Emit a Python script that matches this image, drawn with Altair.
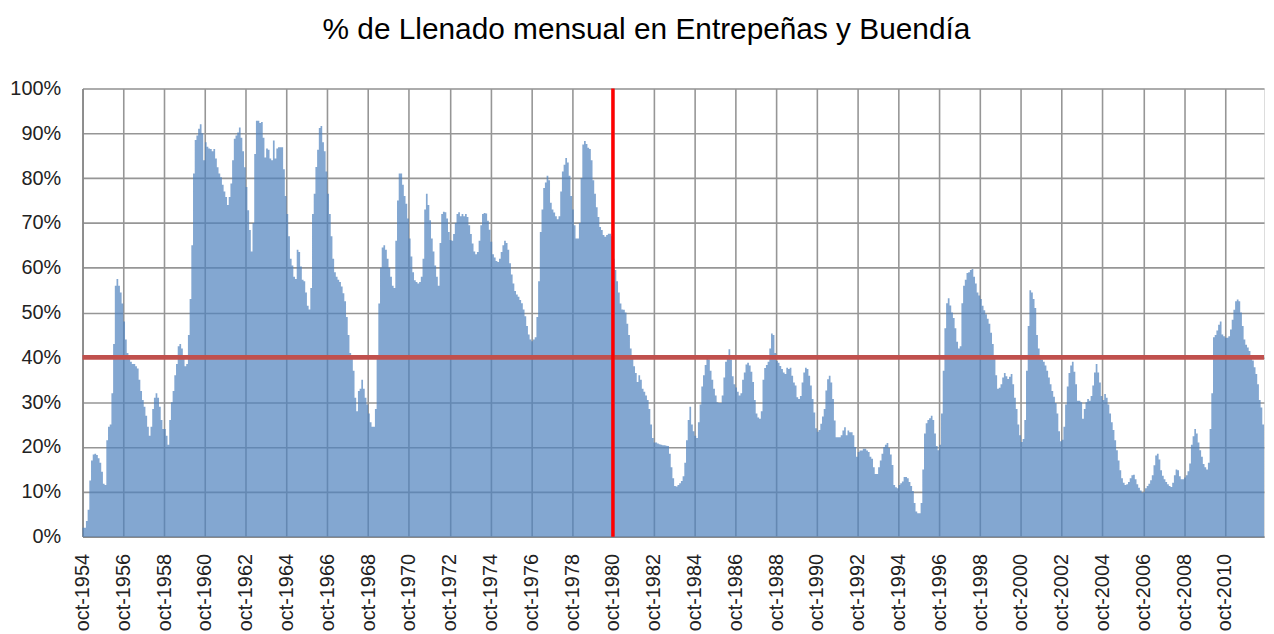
import altair as alt
import pandas as pd

# Monthly fill (%) of Entrepeñas + Buendía, oct-1954 .. aug-2012 (one row of 12 = one water year Oct-Sep)
fill_1954_1963 = [
    2, 2, 3.5, 6, 12.5, 17, 18.3, 18.5, 18.2, 17.5, 16.5, 14.5,
    11.8, 11.5, 21.5, 24.5, 25, 32, 43, 56, 57.5, 56, 54.5, 52,
    48, 44, 41, 40, 39, 38.5, 38.5, 38, 37.5, 35, 32.5, 30.5,
    29, 27, 24.5, 22.5, 24.5, 28.5, 31, 32, 31, 29, 26, 24,
    24, 22.5, 20.5, 26, 30, 32.5, 36, 38.5, 42.5, 43, 42, 40.5,
    38, 38.5, 45, 53, 65, 81, 88.5, 89.5, 91, 92, 90, 84,
    88, 87, 86.6, 86.5, 86, 86.5, 84.4, 82.4, 81, 80.2, 78.5, 77,
    75.8, 74, 75.8, 78.8, 84, 88.8, 89.5, 90.2, 91.3, 89, 86, 82.4,
    78, 72.8, 68.4, 63.6, 70, 85.4, 92.8, 92.8, 92.3, 92.5, 89, 84.6,
    86.6, 86.3, 84.4, 84, 88.4, 84.4, 86.6, 86.9, 86.9, 86.9, 82, 76,
]
fill_1964_1973 = [
    72, 67, 62, 60.5, 58, 57.5, 64, 63.5, 60.3, 57.3, 57, 54.5,
    51.5, 50.7, 55.5, 72, 76.5, 82.5, 86.3, 91.2, 91.6, 88, 86, 81.5,
    76.5, 72, 67, 62, 59, 58, 57.3, 56.8, 55.8, 54.3, 52.5, 49,
    45, 41, 40.5, 37, 31, 28, 32.5, 33, 35, 33, 31, 29.5,
    27.5, 25.5, 24.5, 24.5, 28.5, 40, 52, 60, 64.5, 65, 64, 62,
    60, 58, 56, 55.5, 66, 75, 81, 81, 78.5, 76, 74.3, 71,
    66.5, 62.5, 59, 57.2, 56.8, 56.5, 56.8, 58, 62, 73, 76.5, 74,
    70.6, 66.5, 63.6, 60.5, 58, 56, 65.5, 72, 72.5, 72.4, 71, 68,
    66.2, 66, 67.5, 70, 72, 72.4, 71.5, 72, 71.5, 72, 71.3, 69.5,
    67.5, 65.4, 63.6, 63, 63.5, 66, 69.5, 72, 72.2, 72.1, 70.5, 68.5,
]
fill_1974_1983 = [
    65.8, 63, 62.3, 61.5, 61.3, 62, 63.5, 65, 66, 65.5, 64, 61,
    58.5, 56.5, 54.8, 54, 53.5, 52.8, 52.1, 50.7, 49.2, 47, 45.1, 44,
    43.6, 44, 44.5, 49, 57, 68, 73, 77.8, 79, 80.5, 79.5, 74.5,
    73, 72.3, 71.5, 70.8, 71.5, 77, 81.5, 83, 84.5, 83.5, 80.5, 76,
    73, 69.5, 66.5, 66.5, 70, 80, 87.5, 88.3, 87.6, 86.8, 86.5, 84,
    79.5, 76.5, 73.5, 71.3, 69.1, 68.4, 67.3, 66.9, 67.3, 67.6, 67.6, 67,
    62, 59.5, 57, 54.5, 52, 50.7, 50.6, 50, 47.5, 45, 42, 40,
    38, 36.5, 34.5, 36, 35, 33, 32.3, 31.5, 30.5, 28.5, 25, 22,
    21, 21, 20.8, 20.6, 20.5, 20.4, 20.4, 20.3, 20.2, 18.5, 15.5, 13,
    11.3, 11.2, 11.5, 11.9, 12.4, 13.5, 16.5, 21.5, 26, 29, 25, 23.5,
]
fill_1984_1993 = [
    22.5, 22, 25.5, 29.5, 33.5, 36, 38.3, 40, 39.5, 37, 35, 33,
    31.5, 30, 29.8, 29.8, 31.5, 35.5, 39, 40.5, 41.8, 39.5, 35.8, 34,
    33.3, 32.3, 31.5, 32, 35, 36.6, 38.4, 38.8, 38.2, 36.8, 34.5, 30.5,
    27.5, 26.6, 26.3, 28, 35, 37.6, 38.3, 39, 42, 45.3, 45, 41,
    39.2, 38.8, 38.1, 37.4, 36.6, 36.3, 37.7, 37.4, 37.7, 35.9, 34.4, 33.7,
    31.1, 30.7, 31.4, 34.4, 36.6, 37.7, 37.4, 35.9, 33.7, 30.7, 27.7, 24.2,
    23.4, 23.8, 25.2, 26.8, 28.5, 32.6, 35.1, 35.9, 34.4, 30.7, 25.9, 22.2,
    22.2, 22.2, 22.6, 23.7, 24.4, 22.6, 23.7, 23.3, 23.3, 22.6, 20, 17.8,
    18.9, 19.2, 19.2, 19.6, 19.6, 19.2, 18.9, 17.8, 17.4, 15.5, 14, 14,
    15.5, 17, 18.5, 20, 20.5, 20.9, 19.8, 18.3, 16, 11.5, 11, 10.8,
]
fill_1994_2003 = [
    11.5, 11.9, 12.3, 13.3, 13.3, 13, 12.2, 11.3, 10.2, 7.5, 5.6, 5.2,
    5.2, 7.5, 15, 23, 25.3, 26, 26.4, 27, 26, 23, 20.2, 19.3,
    20.5, 27.5, 37, 46.5, 52.1, 53.2, 51.6, 50, 48.8, 46.5, 43.5, 42,
    42.5, 52.1, 56, 57.3, 58.8, 59, 59.5, 59.7, 58, 56.5, 54.5, 53.8,
    53, 51.5, 50.5, 49.6, 48.6, 47.5, 45.5, 43, 40.5, 36, 33, 33.2,
    34, 35.5, 36.5, 35.8, 35.2, 35.7, 36.3, 34, 31, 28.5, 25, 22.6,
    21.1, 21.8, 26, 37, 47, 55, 54.5, 53, 51, 45, 42, 40.5,
    39.5, 39, 38.2, 37, 35.5, 34, 32.5, 31.2, 29.8, 27.5, 23.5, 21.3,
    21.6, 24.5, 29.5, 33.5, 36.5, 38.2, 39, 36.8, 34, 30.3, 30.3, 30,
    26.3, 28.5, 30, 30.7, 30.3, 31.4, 33.7, 36.6, 38.5, 36.6, 34.4, 31.4,
]
fill_2004_2012 = [
    30.5, 31.8, 31, 29.5, 27.5, 25.5, 23.8, 21.5, 19.3, 17, 14.8, 13,
    12, 11.5, 11.7, 12.2, 13, 13.7, 13.8, 12.8, 11.7, 10.9, 10.3, 9.8,
    10, 10.8, 11.3, 11.8, 12.6, 13.7, 15.9, 18.1, 18.5, 17.2, 14.8, 13.6,
    12.8, 12.2, 11.7, 11.3, 11.1, 12, 13.7, 15, 14.8, 13.5, 12.8, 12.8,
    13.2, 13.7, 14.6, 16.3, 20.5, 22.4, 24, 23, 21, 19.3, 17.8, 16.2,
    15.5, 15, 16.5, 24, 32, 44.5, 45, 46, 47.3, 48, 45.1, 44.7,
    44.4, 44.4, 44.7, 46.2, 48.4, 50.6, 52.5, 52.9, 52.5, 50, 47, 44,
    42.8, 42.2, 41.4, 40.5, 39.3, 37.8, 36.3, 34, 30.5, 28.8, 25,
]

tick_years = list(range(1954, 2012))           # one vertical gridline each October
tick_labels = [f"oct-{y}" if (y - 1954) % 2 == 0 else "" for y in tick_years]
y_ticks = list(range(0, 101, 10))
threshold_pct = 40                              # red horizontal reference
marker_year = 1980                              # red vertical reference (oct-1980)

title_text = "% de Llenado mensual en Entrepeñas y Buendía"

values = (fill_1954_1963 + fill_1964_1973 + fill_1974_1983 +
          fill_1984_1993 + fill_1994_2003 + fill_2004_2012)
n = len(values)
df = pd.DataFrame({"month": list(range(n)) + [n], "pct": values + [values[-1]]})

tick_months = [(y - 1954) * 12 for y in tick_years]
label_js = "[" + ",".join(f"'{t}'" for t in tick_labels) + "][round(datum.value/12)]"

FONT = "Liberation Sans"

xscale = alt.Scale(domain=[0, n], nice=False, zero=False)
yscale = alt.Scale(domain=[0, 100], nice=False)

area = alt.Chart(df).mark_area(
    interpolate="step-after", color="#4F81BD", fillOpacity=0.7
).encode(
    x=alt.X("month:Q", scale=xscale, title=None,
            axis=alt.Axis(values=tick_months, labelExpr=label_js, grid=True,
                          gridColor="#969696", gridWidth=1.6, ticks=False,
                          domainColor="#868686", domainWidth=1.5,
                          labelAngle=270, labelAlign="right", labelBaseline="middle",
                          labelPadding=17, labelFlush=False, labelOverlap=False,
                          labelBound=False, labelFont=FONT, labelFontSize=20,
                          labelColor="#222222")),
    y=alt.Y("pct:Q", scale=yscale, title=None,
            axis=alt.Axis(values=y_ticks, labelExpr="datum.value + '%'", grid=True,
                          gridColor="#969696", gridWidth=1.6, ticks=False,
                          domainColor="#868686", domainWidth=1.5,
                          labelPadding=22, labelFont=FONT, labelFontSize=20,
                          labelColor="#222222", labelFlush=False)),
)

hline = alt.Chart(pd.DataFrame({"pct": [threshold_pct]})).mark_rule(
    color="#C0504D", strokeWidth=5
).encode(y=alt.Y("pct:Q", scale=yscale))

vline = alt.Chart(pd.DataFrame({"month": [(marker_year - 1954) * 12]})).mark_rule(
    color="#FF0000", strokeWidth=3.5
).encode(x=alt.X("month:Q", scale=xscale))

chart = alt.layer(area, hline, vline).properties(
    width=1189, height=451,
    title=alt.TitleParams(title_text, font=FONT, fontSize=30, fontWeight="normal",
                          color="#000000", anchor="middle", offset=34, dx=-27),
    autosize=alt.AutoSizeParams(type="none"),
    padding={"left": 75, "top": 79, "right": 2, "bottom": 95},
).configure_view(fill="#F2F2F2", strokeWidth=0).configure(background="#FFFFFF")

chart.save("out.html", embed_options={"renderer": "svg", "actions": False})
